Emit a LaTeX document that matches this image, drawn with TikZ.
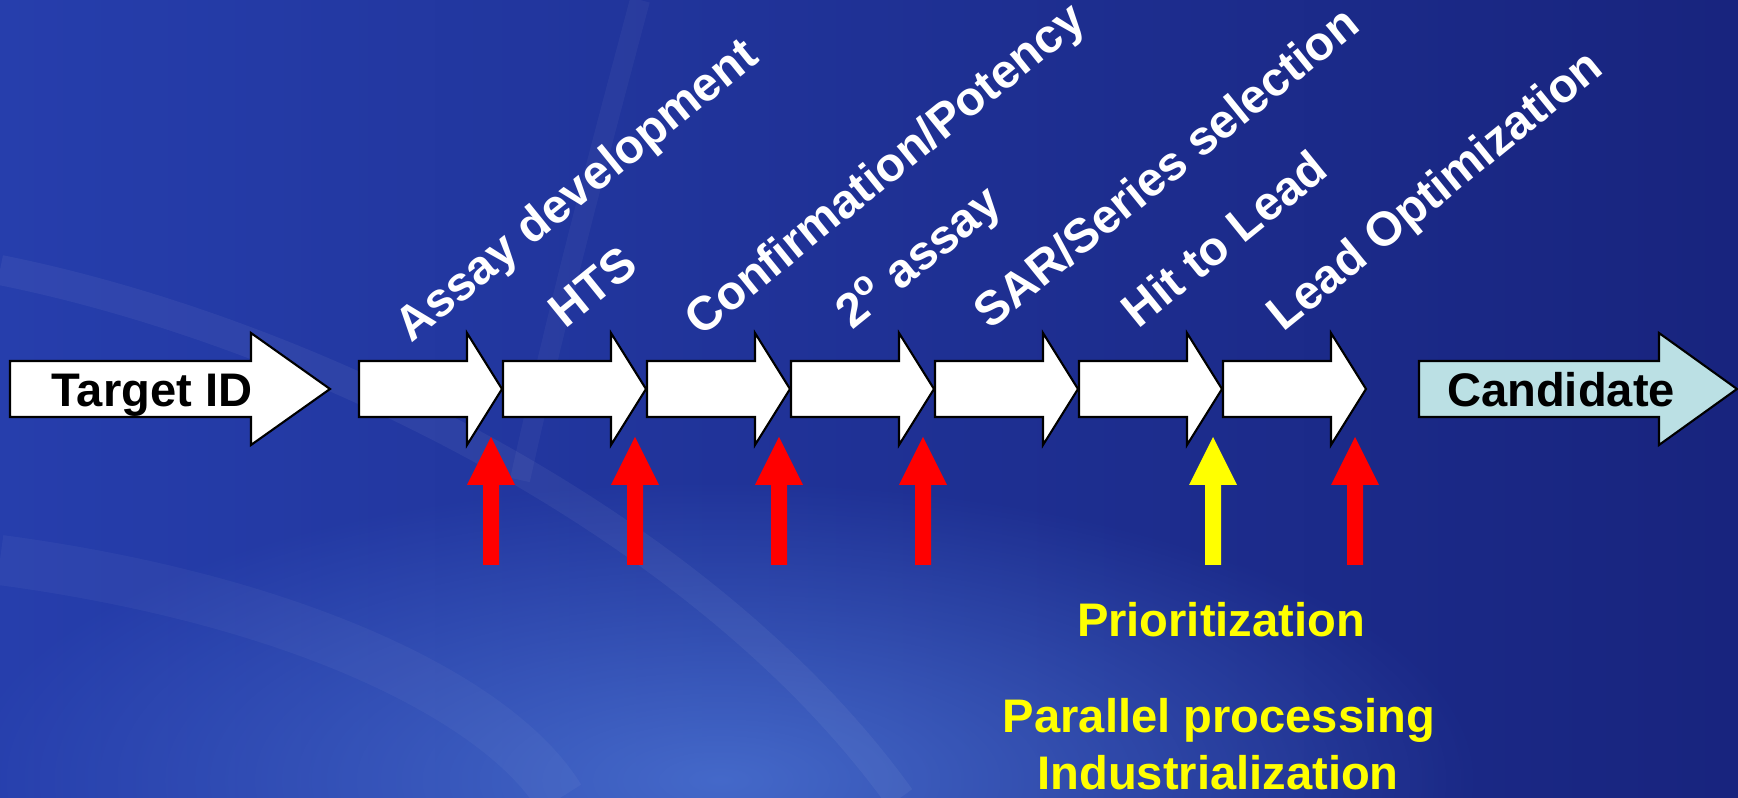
\documentclass[tikz,border=0pt]{standalone}
\usepackage{fontspec}
\setmainfont{Liberation Sans}
\usetikzlibrary{fadings}

\definecolor{bgleft}{RGB}{38,62,172}
\definecolor{bgright}{RGB}{24,36,126}
\definecolor{bglight}{RGB}{84,128,222}
\definecolor{candfill}{RGB}{187,224,228}
\definecolor{hitred}{RGB}{255,0,0}
\definecolor{hityellow}{RGB}{255,255,0}

\tikzfading[name=glow, inner color=transparent!0, outer color=transparent!100]

\tikzset{
  blockarrow/.style={draw=black, line width=0.6pt, fill=white, line join=miter},
  phase/.style={text=white, font=\bfseries\fontsize{13.6}{15}\selectfont, rotate=39, anchor=base west, inner sep=0pt},
  boxtext/.style={font=\bfseries\fontsize{13.4}{16}\selectfont, inner sep=0pt, anchor=base},
  note/.style={text=hityellow, font=\bfseries\fontsize{13.4}{16}\selectfont, inner sep=0pt, anchor=base},
}

\begin{document}
\begin{tikzpicture}[x=0.01cm, y=-0.01cm]
  \useasboundingbox (0,0) rectangle (1738,798);
  % background
  \shade[left color=bgleft, right color=bgright] (0,0) rectangle (1738,798);
  \fill[bglight, path fading=glow, opacity=0.7] (720,780) ellipse (760 and 300);
  \draw[white, opacity=0.05, line width=0.3cm] (0,270) .. controls (300,330) and (700,520) .. (900,798);
  \draw[white, opacity=0.04, line width=0.5cm] (0,560) .. controls (300,600) and (500,700) .. (560,798);
  \draw[white, opacity=0.04, line width=0.2cm] (640,0) .. controls (600,150) and (560,300) .. (520,480);

  % start and end
  \draw[blockarrow] (10,361) -- (251,361) -- (251,333) -- (330,389) -- (251,445) -- (251,417) -- (10,417) -- cycle;
  \draw[blockarrow, fill=candfill] (1419,361) -- (1659,361) -- (1659,333) -- (1737,389) -- (1659,445) -- (1659,417) -- (1419,417) -- cycle;
  \node[boxtext] (target) at (152,407) {Target ID};
  \node[boxtext] (cand) at (1561,407) {Candidate};

  % the seven steps
  \foreach \i in {0,...,6}{
    \pgfmathsetmacro{\ax}{359+144*\i}
    \draw[blockarrow] (\ax,361) -- ++(108,0) -- ++(0,-28) -- ++(35,56) -- ++(-35,56) -- ++(0,-28) -- ++(-108,0) -- cycle;
  }
  \node[phase] (assay) at (411,344) {Assay development};
  \node[phase] (hts) at (565,330) {HTS};
  \node[phase] (conf) at (701,338) {Confirmation/Potency};
  \node[phase] (second) at (852,331) {2\textsuperscript{o} assay};
  \node[phase] (sar) at (990,331) {SAR/Series selection};
  \node[phase] (hit) at (1138,330) {Hit to Lead};
  \node[phase] (leadopt) at (1283,333) {Lead Optimization};

  % checkpoints
  \foreach \c/\col in {491/hitred, 635/hitred, 779/hitred, 923/hitred, 1213/hityellow, 1355/hitred}{
    \fill[\col] ({\c-8},565) -- ({\c-8},485) -- ({\c-24},485) -- (\c,437) -- ({\c+24},485) -- ({\c+8},485) -- ({\c+8},565) -- cycle;
  }

  \node[note] (prio) at (1221,637) {Prioritization};
  \node[note] (para) at (1219,733) {Parallel processing};
  \node[note] (indus) at (1218,790) {Industrialization};
\end{tikzpicture}
\end{document}
